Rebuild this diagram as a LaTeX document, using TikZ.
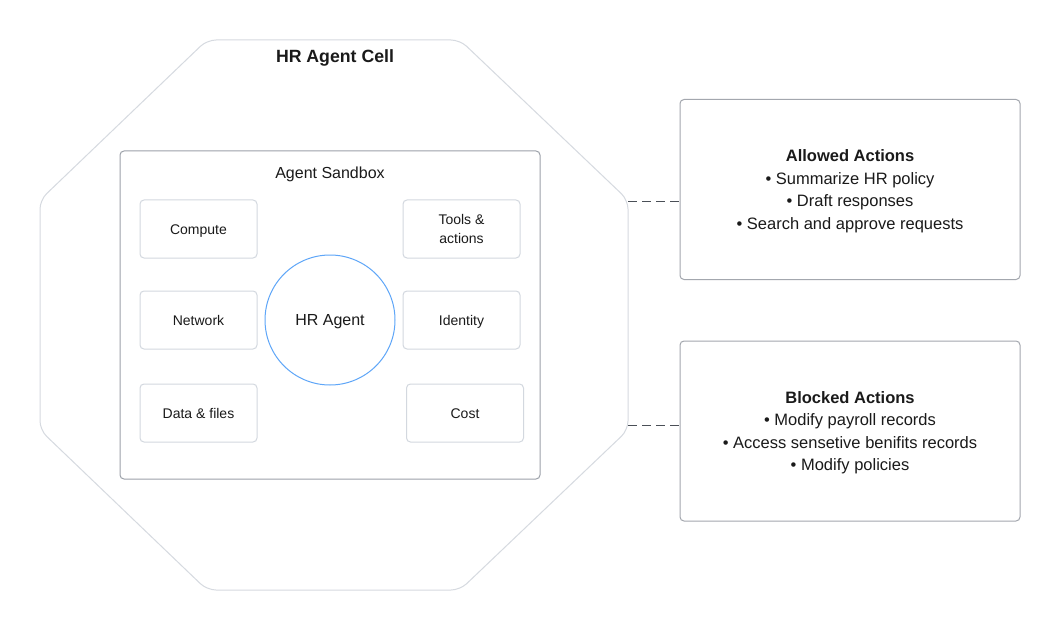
\documentclass[tikz,border=0pt]{standalone}
\usepackage{fontspec}
\setmainfont{Liberation Sans}
\usetikzlibrary{positioning}

\definecolor{celledge}{HTML}{D6DAE0}
\definecolor{boxedge}{HTML}{9CA1A9}
\definecolor{resedge}{HTML}{D3D8DF}
\definecolor{ruleedge}{HTML}{A3A7AE}
\definecolor{agentblue}{HTML}{5FA6F8}
\definecolor{linkcol}{HTML}{4A4F57}
\definecolor{txt}{HTML}{1A1A1A}

\begin{document}
\begin{tikzpicture}[x=1pt,y=-1pt,text=txt,
  res/.style={draw=resedge, line width=1pt, rounded corners=4pt,
    minimum width=117pt, minimum height=58pt, align=center,
    text height=13pt, text depth=3pt,
    font=\fontsize{14}{19}\selectfont},
  rule/.style={draw=ruleedge, line width=1pt, rounded corners=4pt,
    minimum width=340pt, minimum height=180pt, align=center,
    text depth=-3.5pt, font=\fontsize{16.5}{22.5}\selectfont},
  link/.style={draw=linkcol, line width=1pt, dash pattern=on 9pt off 5pt}]
\useasboundingbox[fill=white] (0,0) rectangle (1060,631);

% cell outline
\draw[celledge, line width=1pt, rounded corners=9pt]
  (207,40) -- (460,40) -- (628,200) -- (628,430) -- (460,590)
  -- (207,590) -- (40,430) -- (40,200) -- cycle;
\node[font=\fontsize{17.7}{20}\selectfont\bfseries] (cell) at (335,58) {HR Agent Cell};
\coordinate (cellA) at (628,202);
\coordinate (cellB) at (628,425);

% sandbox
\node[draw=boxedge, line width=1pt, rounded corners=4pt,
  minimum width=420pt, minimum height=328pt] (sandbox) at (330,315) {};
\node[font=\fontsize{16}{20}\selectfont] (sandboxlbl) at (330,174) {Agent Sandbox};

\node[circle, draw=agentblue, line width=1pt, minimum size=130pt,
  text height=15.4pt, text depth=4pt,
  font=\fontsize{16}{20}\selectfont] (agent) at (330,320) {HR Agent};

\node[res] (compute) at (198.5,229) {Compute};
\node[res] (network) at (198.5,320) {Network};
\node[res] (data) at (198.5,413) {Data \& files};
\node[res, text height=, text depth=-4pt] (tools) at (461.5,229) {Tools \&\\actions};
\node[res] (identity) at (461.5,320) {Identity};
\node[res] (cost) at (465,413) {Cost};

% policies
\node[rule] (allowed) at (850,189.5) {\textbf{Allowed Actions}\\
  • Summarize HR policy\\ • Draft responses\\ • Search and approve requests};
\node[rule] (blocked) at (850,431) {\textbf{Blocked Actions}\\
  • Modify payroll records\\ • Access sensetive benifits records\\ • Modify policies};

\draw[link] (cellA) -- (allowed.west |- cellA);
\draw[link] (cellB) -- (blocked.west |- cellB);
\end{tikzpicture}
\end{document}
